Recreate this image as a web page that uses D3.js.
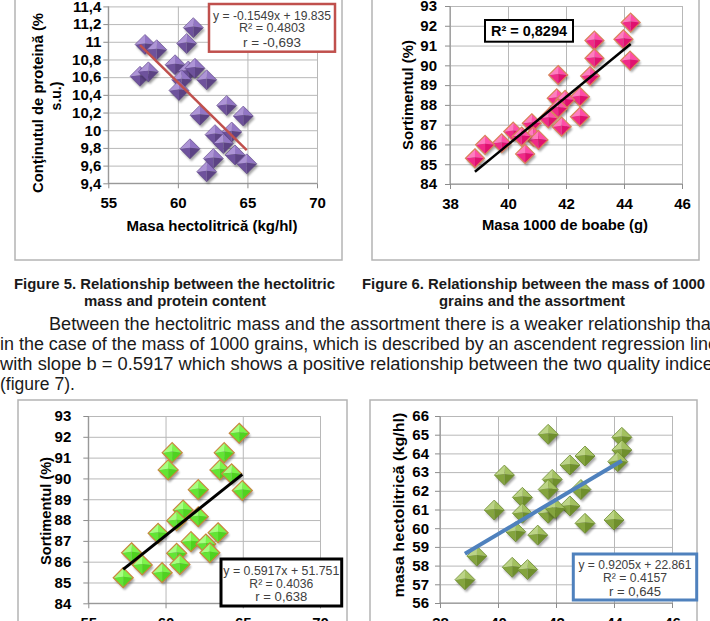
<!DOCTYPE html>
<html lang="ro">
<head>
<meta charset="UTF-8">
<title>Figures 5-8</title>
<script src="https://d3js.org/d3.v7.min.js"></script>
<style>
    body { margin: 0; background: #fff; }
    svg { display: block; font-family: "Liberation Sans", Arial, sans-serif; }
    .grid line { stroke: #b8b8b8; stroke-width: 1; }
    .grid path { display: none; }
    .axis path, .axis line { stroke: #8c8c8c; stroke-width: 1; }
    .axis text { font-size: 15px; font-weight: bold; fill: #000; }
    .ttl { font-size: 14px; font-weight: bold; fill: #000; }
    .eq { font-size: 12px; fill: #404040; }
</style>
</head>
<body>
<div id="page"></div>
<script>
// Figure 5: hectolitric mass vs protein content
const fig5X = [61.11, 60.63, 57.64, 58.48, 59.8, 60.75, 61.23, 57.28, 57.88, 60.27, 62.07, 60.08, 63.51, 61.59, 64.7, 63.87, 62.67, 63.27, 60.87, 62.55, 64.11, 64.95, 62.07];
const fig5Y = [11.16, 10.98, 10.97, 10.91, 10.74, 10.67, 10.70, 10.61, 10.66, 10.57, 10.57, 10.45, 10.28, 10.17, 10.16, 9.98, 9.95, 9.85, 9.79, 9.68, 9.72, 9.62, 9.53];
const fig5XTicks = [55, 60, 65, 70];
const fig5YTicks = [9.4, 9.6, 9.8, 10, 10.2, 10.4, 10.6, 10.8, 11, 11.2, 11.4];
const fig5Trend = [-0.1549, 19.835];
const fig5Eq = ["y = -0.1549x  + 19.835", "R² = 0.4803", "r = -0,693"];

// Figure 6: mass of 1000 grains vs assortment
const fig6X = [44.23, 43.98, 42.98, 42.98, 44.21, 42.83, 41.73, 42.48, 41.68, 41.97, 41.73, 42.48, 41.39, 41.85, 40.82, 40.87, 41.05, 40.18, 40.47, 39.78, 39.21, 40.59, 38.86];
const fig6Y = [92.16, 91.32, 91.25, 90.36, 90.24, 89.46, 89.51, 88.41, 88.33, 88.25, 87.83, 87.40, 87.32, 86.9, 87.07, 86.4, 86.23, 86.65, 86.4, 86.06, 85.98, 85.52, 85.3];
const fig6XTicks = [38, 40, 42, 44, 46];
const fig6YTicks = [84, 85, 86, 87, 88, 89, 90, 91, 92, 93];
const fig6Trend = [1.203, 37.87];
const fig6Eq = ["R² = 0,8294"];

// Figure 7: hectolitric mass vs assortment
const fig7X = [64.77, 60.43, 63.8, 60.17, 63.52, 64.28, 64.97, 62.12, 61.14, 62.12, 60.72, 59.52, 63.4, 61.65, 62.61, 62.87, 60.72, 60.93, 57.8, 58.49, 59.78, 57.26];
const fig7Y = [92.17, 91.24, 91.24, 90.41, 90.41, 90.22, 89.42, 89.46, 88.48, 88.16, 87.97, 87.36, 87.39, 86.96, 86.85, 86.43, 86.4, 85.87, 86.43, 85.84, 85.47, 85.23];
const fig7XTicks = [55, 60, 65, 70];
const fig7YTicks = [84, 85, 86, 87, 88, 89, 90, 91, 92, 93];
const fig7Trend = [0.5917, 51.751];
const fig7Eq = ["y = 0.5917x  + 51.751", "R² = 0.4036", "r = 0,638"];

// Figure 8: mass of 1000 grains vs hectolitric mass
const fig8X = [41.73, 44.27, 44.27, 44.13, 43.0, 42.48, 40.22, 41.87, 41.73, 42.86, 40.84, 42.48, 39.87, 40.84, 41.73, 41.97, 43.0, 44.0, 40.61, 41.37, 39.27, 40.49, 41.02, 38.86];
const fig8Y = [65.02, 64.86, 64.18, 63.56, 63.86, 63.38, 62.84, 62.61, 62.07, 62.07, 61.65, 61.19, 60.97, 60.8, 60.8, 61.06, 60.26, 60.44, 59.81, 59.63, 58.51, 57.91, 57.79, 57.25];
const fig8XTicks = [38, 40, 42, 44, 46];
const fig8YTicks = [56, 57, 58, 59, 60, 61, 62, 63, 64, 65, 66];
const fig8Trend = [0.9205, 22.861];
const fig8Eq = ["y = 0.9205x  + 22.861", "R² = 0.4157", "r = 0,645"];

const captions = [
    ["Figure 5. Relationship between the hectolitric", "mass and protein content"],
    ["Figure 6. Relationship between the mass of 1000", "grains and the assortment"]
];
const bodyLines = [
    "Between the hectolitric mass and the assortment there is a weaker relationship than",
    "in the case of the mass of 1000 grains, which is described by an ascendent regression line",
    "with slope b = 0.5917 which shows a positive relationship between the two quality indices",
    "(figure 7)."
];

const svg = d3.select("#page").append("svg")
    .attr("width", 710)
    .attr("height", 621);

svg.append("rect").attr("width", 710).attr("height", 621).attr("fill", "#fff");

const defs = svg.append("defs");
defs.append("filter").attr("id", "shadow")
    .attr("x", "-50%").attr("y", "-50%").attr("width", "200%").attr("height", "200%")
    .append("feGaussianBlur").attr("stdDeviation", 1.3);

const fmtComma = d => String(+d.toFixed(1)).replace(".", ",");

function drawChart(c) {
    const g = svg.append("g");

    // chart frame
    g.append("rect")
        .attr("x", c.frame[0]).attr("y", c.frame[1])
        .attr("width", c.frame[2] - c.frame[0]).attr("height", c.frame[3] - c.frame[1])
        .attr("fill", "#fff").attr("stroke", "#b4b4b4").attr("stroke-width", 1.5);

    const x = d3.scaleLinear().domain(c.xDomain).range(c.xRange);
    const y = d3.scaleLinear().domain(c.yDomain).range(c.yRange);
    const w = c.xRange[1] - c.xRange[0];
    const h = c.yRange[0] - c.yRange[1];

    // gridlines
    g.append("g").attr("class", "grid")
        .attr("transform", `translate(${c.xRange[0]},0)`)
        .call(d3.axisLeft(y).tickValues(c.yTicks).tickSize(-w).tickFormat(""));
    g.append("g").attr("class", "grid")
        .attr("transform", `translate(0,${c.yRange[0]})`)
        .call(d3.axisBottom(x).tickValues(c.xTicks).tickSize(-h).tickFormat(""));

    // axes
    const ya = g.append("g").attr("class", "axis")
        .attr("transform", `translate(${c.xRange[0]},0)`)
        .call(d3.axisLeft(y).tickValues(c.yTicks).tickSize(5).tickSizeOuter(0)
            .tickPadding(c.yPad).tickFormat(fmtComma));
    const xa = g.append("g").attr("class", "axis")
        .attr("transform", `translate(0,${c.yRange[0]})`)
        .call(d3.axisBottom(x).tickValues(c.xTicks).tickSize(5).tickSizeOuter(0)
            .tickPadding(9).tickFormat(d3.format("d")));
    ya.select(".domain").attr("d", `M0,${c.yRange[1]}V${c.yRange[0]}`);
    xa.select(".domain").attr("d", `M${c.xRange[0]},0H${c.xRange[1]}`);

    // axis titles
    g.append("text").attr("class", "ttl")
        .attr("x", c.xTitle[1]).attr("y", c.xTitle[2])
        .attr("text-anchor", "middle")
        .attr("textLength", c.xTitle[3]).attr("lengthAdjust", "spacingAndGlyphs")
        .text(c.xTitle[0]);
    c.yTitle.forEach(t => {
        const tt = g.append("text").attr("class", "ttl")
            .attr("transform", `translate(${t[1]},${t[2]}) rotate(-90)`)
            .attr("text-anchor", "middle")
            .text(t[0]);
        if (t[3]) tt.attr("textLength", t[3]).attr("lengthAdjust", "spacingAndGlyphs");
    });

    // markers: bevelled diamonds
    const r = c.r;
    const pts = c.xs.map((v, i) => [x(v), y(c.ys[i])]);
    const mk = g.append("g").selectAll("g").data(pts).join("g")
        .attr("transform", d => `translate(${d[0]},${d[1]})`);
    mk.append("path")
        .attr("d", `M0,${-r}L${r},0L0,${r}L${-r},0Z`)
        .attr("transform", "translate(1.5,2.5)")
        .attr("fill", "#000").attr("opacity", 0.35)
        .attr("filter", "url(#shadow)");
    const s = r * 0.35;
    const facets = [
        [`M0,${-r}L${-r},0L0,${-s * 0.3}Z`, c.col[0]],
        [`M0,${-r}L${r},0L0,${-s * 0.3}Z`, c.col[1]],
        [`M${r},0L0,${r}L0,${-s * 0.3}Z`, c.col[2]],
        [`M${-r},0L0,${r}L0,${-s * 0.3}Z`, c.col[3]]
    ];
    facets.forEach(f => {
        mk.append("path").attr("d", f[0]).attr("fill", f[1]);
    });
    mk.append("path")
        .attr("d", `M0,${-r}L${r},0L0,${r}L${-r},0Z`)
        .attr("fill", "none").attr("stroke", c.col[4]).attr("stroke-width", c.edge);

    // trend line
    const ext = d3.extent(c.xs);
    const line = d3.line().x(d => x(d)).y(d => y(c.trend[0] * d + c.trend[1]));
    g.append("path").datum(ext)
        .attr("d", line)
        .attr("fill", "none").attr("stroke", c.trendColor)
        .attr("stroke-width", c.trendWidth);

    // equation box
    const b = c.box;
    g.append("rect")
        .attr("x", b[0]).attr("y", b[1]).attr("width", b[2] - b[0]).attr("height", b[3] - b[1])
        .attr("fill", "#fff").attr("stroke", c.boxColor).attr("stroke-width", c.boxWidth);
    c.eq.forEach((t, i) => {
        const tx = g.append("text").attr("class", c.eqBold ? "ttl" : "eq")
            .attr("x", (b[0] + b[2]) / 2).attr("y", c.eqY[i])
            .attr("text-anchor", "middle")
            .text(t);
        if (c.eqLen[i]) tx.attr("textLength", c.eqLen[i]).attr("lengthAdjust", "spacingAndGlyphs");
    });
}

drawChart({
    frame: [15, -5, 342, 260],
    xs: fig5X, ys: fig5Y, xTicks: fig5XTicks, yTicks: fig5YTicks,
    xDomain: [55, 70], xRange: [108.3, 317],
    yDomain: [9.4, 11.4], yRange: [183.3, 6.4], yPad: 2,
    xTitle: ["Masa hectolitrică (kg/hl)", 212, 231, 171],
    yTitle: [["Conţinutul de proteină (%", 43, 103, 180], ["s.u.)", 61, 96, 0]],
    r: 10, col: ["#ad94d6", "#9276c4", "#5c4384", "#6e529c", "#5b4285"], edge: 0.6,
    trend: fig5Trend, trendColor: "#c0504d", trendWidth: 2.5,
    box: [209, 4, 335, 51.7], boxColor: "#c0504d", boxWidth: 2.5,
    eq: fig5Eq, eqY: [19.5, 32, 46.5], eqLen: [118, 66, 58]
});

drawChart({
    frame: [372, -5, 699, 260],
    xs: fig6X, ys: fig6Y, xTicks: fig6XTicks, yTicks: fig6YTicks,
    xDomain: [38, 46], xRange: [450, 682],
    yDomain: [84, 93], yRange: [184, 6], yPad: 8,
    xTitle: ["Masa 1000 de boabe (g)", 565, 230, 166],
    yTitle: [["Sortimentul (%)", 413, 95, 110]],
    r: 9.5, col: ["#ff7cc0", "#ff4da8", "#e0106f", "#f02a88", "#d9845a"], edge: 1.2,
    trend: fig6Trend, trendColor: "#000", trendWidth: 2.5,
    box: [485, 20, 573, 41.7], boxColor: "#000", boxWidth: 2,
    eq: fig6Eq, eqY: [36], eqLen: [76], eqBold: true
});

drawChart({
    frame: [18, 400, 347, 640],
    xs: fig7X, ys: fig7Y, xTicks: fig7XTicks, yTicks: fig7YTicks,
    xDomain: [55, 70], xRange: [88.3, 320],
    yDomain: [84, 93], yRange: [603.3, 416], yPad: 12,
    xTitle: ["Masa hectolitrică (kg/hl)", 204, 660, 171],
    yTitle: [["Sortimentul (%)", 51, 511, 108]],
    r: 10, col: ["#a6ff80", "#7cf54a", "#4fd320", "#62e534", "#c8873e"], edge: 1.2,
    trend: fig7Trend, trendColor: "#000", trendWidth: 3,
    box: [221, 559, 341.7, 606], boxColor: "#000", boxWidth: 3,
    eq: fig7Eq, eqY: [574.5, 588, 601], eqLen: [116, 64, 52]
});

drawChart({
    frame: [370, 400, 697, 640],
    xs: fig8X, ys: fig8Y, xTicks: fig8XTicks, yTicks: fig8YTicks,
    xDomain: [38, 46], xRange: [440, 672],
    yDomain: [56, 66], yRange: [603, 416], yPad: 6,
    xTitle: ["Masa 1000 de boabe (g)", 556, 660, 166],
    yTitle: [["masa hectolitrică (kg/hl)", 404, 505, 185]],
    r: 10, col: ["#bcd486", "#a3c160", "#6f8f2c", "#84a43e", "#6c8a2e"], edge: 0.8,
    trend: fig8Trend, trendColor: "#4f81bd", trendWidth: 4,
    box: [573.3, 554, 696.7, 600], boxColor: "#4f81bd", boxWidth: 3,
    eq: fig8Eq, eqY: [568.5, 582, 595.5], eqLen: [113, 64, 52]
});

// captions
const capPos = [[174.5, 321, 175, 182], [533.5, 343, 532, 186]];
captions.forEach((cap, i) => {
    const p = capPos[i];
    svg.append("text").attr("class", "ttl")
        .attr("x", p[0]).attr("y", 288.5).attr("text-anchor", "middle")
        .attr("textLength", p[1]).attr("lengthAdjust", "spacingAndGlyphs")
        .style("fill", "#1a1a1a")
        .text(cap[0]);
    svg.append("text").attr("class", "ttl")
        .attr("x", p[2]).attr("y", 305.5).attr("text-anchor", "middle")
        .attr("textLength", p[3]).attr("lengthAdjust", "spacingAndGlyphs")
        .style("fill", "#1a1a1a")
        .text(cap[1]);
});

// body text
const bodyPos = [[49, 329.5, 672], [0, 349.8, 718], [0, 370.3, 722], [0, 389.8, 0]];
bodyLines.forEach((t, i) => {
    const p = bodyPos[i];
    const tx = svg.append("text")
        .attr("x", p[0]).attr("y", p[1])
        .style("font-size", "17.5px").style("fill", "#1a1a1a")
        .text(t);
    if (p[2]) tx.attr("textLength", p[2]).attr("lengthAdjust", "spacingAndGlyphs");
});
</script>
</body>
</html>
